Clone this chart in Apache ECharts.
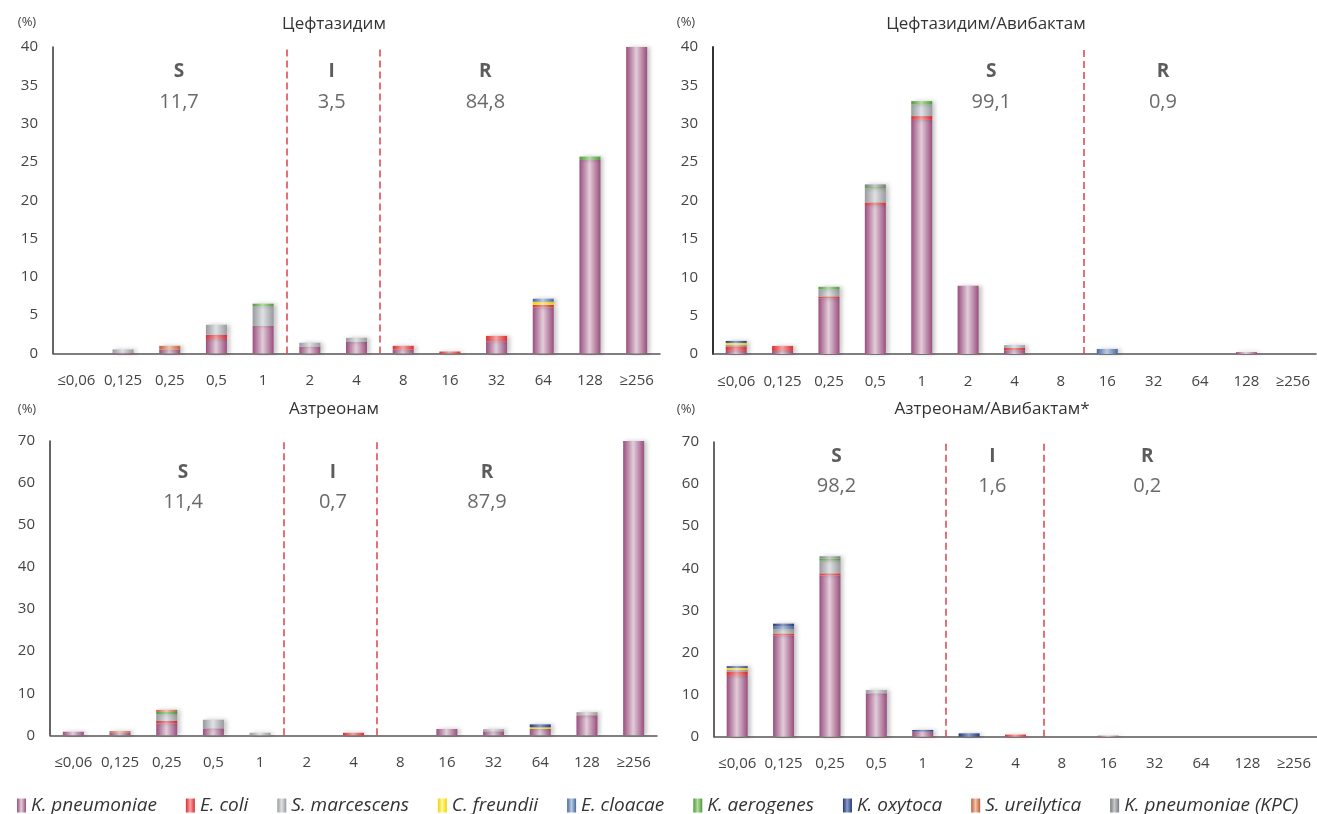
<!DOCTYPE html>
<html>
<head>
<meta charset="utf-8">
<script src="https://cdn.jsdelivr.net/npm/echarts@6/dist/echarts.min.js"></script>
<style>
  html, body { margin: 0; padding: 0; background: #fff; }
  #main { width: 1317px; height: 814px; }
</style>
</head>
<body>
<div id="main"></div>
<script>
// MIC categories (mg/L)
const categories = ['≤0,06', '0,125', '0,25', '0,5', '1', '2', '4', '8', '16', '32', '64', '128', '≥256'];

const species = ['K. pneumoniae', 'E. coli', 'S. marcescens', 'C. freundii', 'E. cloacae',
  'K. aerogenes', 'K. oxytoca', 'S. ureilytica', 'K. pneumoniae (KPC)'];

// rows follow the species order above, % of isolates per MIC
const ceftazidime = [
  [0, 0.13, 0.5, 1.9, 3.6, 0.9, 1.5, 0.5, 0, 1.6, 6.0, 25.25, 48.4],
  [0, 0, 0, 0.55, 0, 0, 0, 0.5, 0.26, 0.7, 0.35, 0, 0],
  [0, 0.4, 0, 1.3, 2.6, 0.5, 0.55, 0, 0, 0, 0, 0, 0],
  [0, 0, 0, 0, 0, 0, 0, 0, 0, 0, 0.4, 0, 0],
  [0, 0, 0, 0, 0, 0, 0, 0, 0, 0, 0.4, 0, 0],
  [0, 0, 0, 0, 0.3, 0, 0, 0, 0, 0, 0, 0.45, 0],
  [0, 0, 0, 0, 0, 0, 0, 0, 0, 0, 0, 0, 0],
  [0, 0, 0.5, 0, 0, 0, 0, 0, 0, 0, 0, 0, 0],
  [0, 0, 0, 0, 0, 0, 0, 0, 0, 0, 0, 0, 0]
];

const ceftazidimeAvibactam = [
  [0.4, 0.4, 7.25, 19.4, 30.5, 8.9, 0.5, 0, 0, 0, 0, 0.25, 0],
  [0.6, 0.65, 0.25, 0.35, 0.5, 0, 0.3, 0, 0, 0, 0, 0, 0],
  [0.2, 0, 0.9, 1.8, 1.5, 0, 0.35, 0, 0, 0, 0, 0, 0],
  [0.25, 0, 0, 0, 0, 0, 0, 0, 0, 0, 0, 0, 0],
  [0, 0, 0, 0, 0, 0, 0, 0, 0.65, 0, 0, 0, 0],
  [0, 0, 0.35, 0.2, 0.45, 0, 0, 0, 0, 0, 0, 0, 0],
  [0.25, 0, 0, 0, 0, 0, 0, 0, 0, 0, 0, 0, 0],
  [0, 0, 0, 0, 0, 0, 0, 0, 0, 0, 0, 0, 0],
  [0, 0, 0, 0.35, 0, 0, 0, 0, 0, 0, 0, 0, 0]
];

const aztreonam = [
  [0.85, 0.6, 2.85, 1.65, 0, 0, 0, 0, 1.5, 0.95, 1.5, 4.6, 76.8],
  [0, 0, 0.55, 0, 0, 0, 0.6, 0, 0, 0, 0, 0.15, 0],
  [0, 0, 1.65, 2.05, 0.6, 0, 0, 0, 0, 0.5, 0, 0.75, 0],
  [0, 0, 0, 0, 0, 0, 0, 0, 0, 0, 0.4, 0, 0],
  [0, 0, 0, 0, 0, 0, 0, 0, 0, 0, 0, 0, 0],
  [0, 0, 0.5, 0, 0, 0, 0, 0, 0, 0, 0, 0, 0],
  [0, 0, 0, 0, 0, 0, 0, 0, 0, 0, 0.7, 0, 0],
  [0, 0.4, 0.5, 0, 0, 0, 0, 0, 0, 0, 0, 0, 0],
  [0, 0, 0, 0, 0, 0, 0, 0, 0, 0, 0, 0, 0]
];

const aztreonamAvibactam = [
  [14.45, 24.0, 38.3, 10.3, 1.2, 0, 0, 0, 0.25, 0, 0, 0, 0],
  [1.05, 0.5, 0.5, 0, 0, 0, 0.5, 0, 0, 0, 0, 0, 0],
  [0.4, 1.1, 3.0, 0.8, 0, 0, 0, 0, 0, 0, 0, 0, 0],
  [0.45, 0, 0, 0, 0, 0, 0, 0, 0, 0, 0, 0, 0],
  [0, 0.6, 0, 0, 0, 0, 0, 0, 0, 0, 0, 0, 0],
  [0, 0, 0.5, 0, 0, 0, 0, 0, 0, 0, 0, 0, 0],
  [0.4, 0.65, 0, 0, 0.4, 0.8, 0, 0, 0, 0, 0, 0, 0],
  [0, 0, 0, 0, 0, 0, 0, 0, 0, 0, 0, 0, 0],
  [0, 0, 0.55, 0, 0, 0, 0, 0, 0, 0, 0, 0, 0]
];

const chartTitles = ['Цефтазидим', 'Цефтазидим/Авибактам', 'Азтреонам', 'Азтреонам/Авибактам*'];

// S / I / R shares, %
const zoneNames = [['S', 'I', 'R'], ['S', 'R'], ['S', 'I', 'R'], ['S', 'I', 'R']];
const zoneShares = [['11,7', '3,5', '84,8'], ['99,1', '0,9'], ['11,4', '0,7', '87,9'], ['98,2', '1,6', '0,2']];

// breakpoints, in category-index units (between two MIC columns)
const breakpoints = [[4.5, 6.5], [7.5], [4.5, 6.5], [4.5, 6.6]];

// ---- layout / style ----
const panels = [
  { grid: { left: 53, top: 47, width: 607, height: 306.5 }, yMax: 40, yStep: 5, axisW: 1.5,
    zoneX: [2.2, 5.47, 8.76], zoneY: 34.8, titleX: 334, titleY: 24, pctX: 27, pctY: 22 },
  { grid: { left: 713, top: 47, width: 603, height: 307 }, yMax: 40, yStep: 5, axisW: 2,
    zoneX: [5.5, 9.2], zoneY: 34.8, titleX: 986, titleY: 24, pctX: 686, pctY: 22 },
  { grid: { left: 50, top: 441, width: 607, height: 294.3 }, yMax: 70, yStep: 10, axisW: 1.5,
    zoneX: [2.35, 5.56, 8.86], zoneY: 58.9, titleX: 334, titleY: 409, pctX: 27, pctY: 409 },
  { grid: { left: 714, top: 442, width: 603, height: 294.7 }, yMax: 70, yStep: 10, axisW: 1.5,
    zoneX: [2.14, 5.5, 8.84], zoneY: 63, titleX: 992, titleY: 409, pctX: 686, pctY: 409 }
];
const datasets = [ceftazidime, ceftazidimeAvibactam, aztreonam, aztreonamAvibactam];

const palette = [
  ['#9a4e7e', '#e2cdda'],
  ['#dc2c32', '#f6a4a4'],
  ['#989a9e', '#e0e1e4'],
  ['#f3d400', '#fff6a0'],
  ['#466a9c', '#bccbe2'],
  ['#4e9a3a', '#b4dba4'],
  ['#24397a', '#8e9cc8'],
  ['#c05e38', '#f2c4ae'],
  ['#7b7c80', '#c8c9cc']
];
const FONT = '"Open Sans", "Noto Sans", sans-serif';

function grad(c) {
  return new echarts.graphic.LinearGradient(0, 0, 1, 0, [
    { offset: 0, color: c[0] },
    { offset: 0.48, color: c[1] },
    { offset: 1, color: c[0] }
  ]);
}

const chart = echarts.init(document.getElementById('main'));

const grids = [], xAxes = [], yAxes = [], series = [], graphics = [];

panels.forEach((p, g) => {
  grids.push(p.grid);
  xAxes.push({
    type: 'category', gridIndex: g, data: categories,
    axisLine: { lineStyle: { color: '#555', width: 1.5 } },
    axisTick: { show: false },
    axisLabel: { interval: 0, color: '#444', fontSize: 15, fontFamily: FONT, margin: 20 }
  });
  yAxes.push({
    type: 'value', gridIndex: g, min: 0, max: p.yMax, interval: p.yStep,
    axisLine: { show: true, onZero: false, lineStyle: { color: '#333', width: p.axisW } },
    axisTick: { show: false },
    splitLine: { show: false },
    axisLabel: { color: '#444', fontSize: 15, fontFamily: FONT, margin: 15 }
  });

  datasets[g].forEach((row, s) => {
    series.push({
      name: species[s], type: 'bar', xAxisIndex: g, yAxisIndex: g, stack: 'st' + g,
      barWidth: 21, data: row,
      itemStyle: { color: grad(palette[s]), shadowColor: 'rgba(0,0,0,0.22)', shadowBlur: 4, shadowOffsetX: 3 },
      emphasis: { disabled: true }
    });
  });

  graphics.push({ type: 'text', x: p.titleX, y: p.titleY,
    style: { text: chartTitles[g], font: '17px ' + FONT, fill: '#333', textAlign: 'center', textVerticalAlign: 'middle' } });
  graphics.push({ type: 'text', x: p.pctX, y: p.pctY,
    style: { text: '(%)', font: '13px ' + FONT, fill: '#444', textAlign: 'center', textVerticalAlign: 'middle' } });
});

// hidden value axes over the same grids, for breakpoints and zone labels
panels.forEach((p, g) => {
  xAxes.push({ type: 'value', gridIndex: g, min: -0.5, max: 12.5, show: false });
  series.push({
    type: 'scatter', xAxisIndex: 4 + g, yAxisIndex: g, symbolSize: 0, silent: true,
    data: zoneNames[g].map((n, i) => ({ value: [p.zoneX[i], p.zoneY], zone: n, share: zoneShares[g][i] })),
    label: {
      show: true, position: 'inside',
      formatter: (d) => '{n|' + d.data.zone + '}\n{v|' + d.data.share + '}',
      rich: {
        n: { fontSize: 19, fontWeight: 'bold', color: '#333', fontFamily: FONT, lineHeight: 30, align: 'center' },
        v: { fontSize: 20, color: '#444', fontFamily: FONT, lineHeight: 30, align: 'center' }
      }
    },
    markLine: {
      silent: true, symbol: 'none', animation: false,
      label: { show: false },
      lineStyle: { color: '#e0424c', width: 1.5, type: [7, 4] },
      data: breakpoints[g].map((b) => ({ xAxis: b }))
    }
  });
});

chart.setOption({
  animation: false,
  grid: grids,
  xAxis: xAxes,
  yAxis: yAxes,
  series: series,
  graphic: graphics,
  legend: {
    data: species, left: 12, top: 791, icon: 'rect', itemWidth: 9, itemHeight: 14, itemGap: 29,
    textStyle: { fontSize: 19, fontStyle: 'italic', color: '#333', fontFamily: FONT }
  }
});
</script>
</body>
</html>
